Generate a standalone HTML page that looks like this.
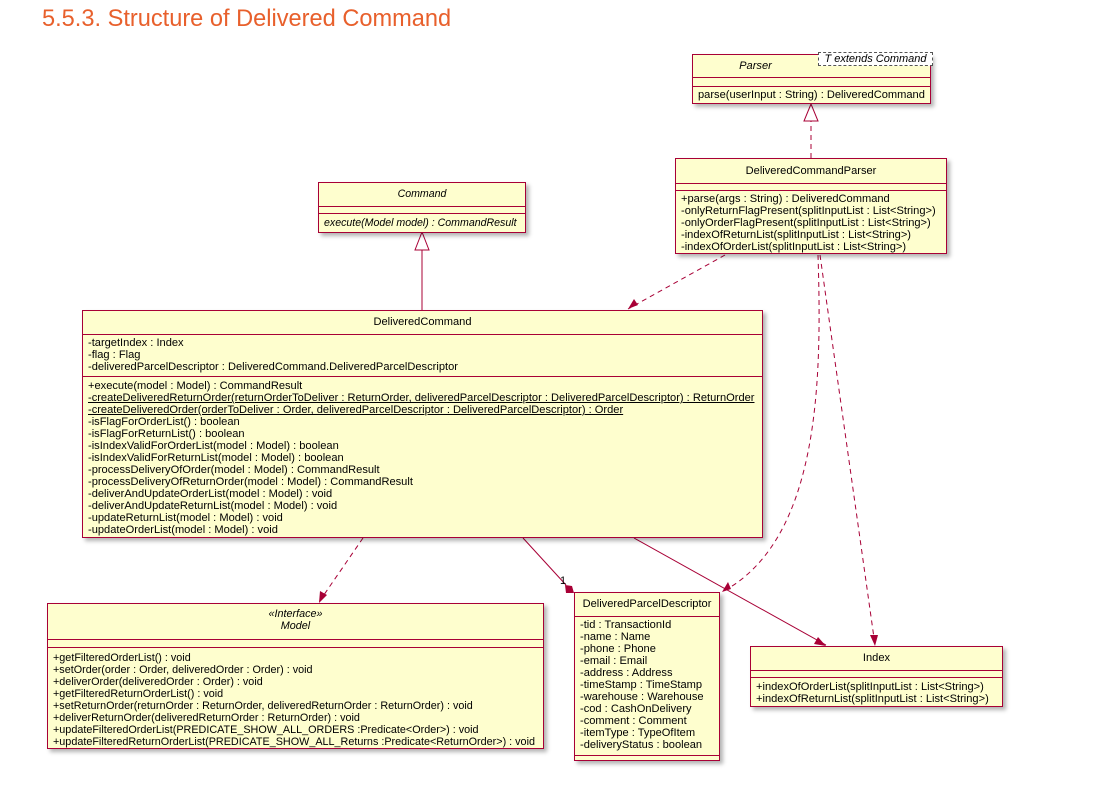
<!DOCTYPE html>
<html><head><meta charset="utf-8"><style>
body{margin:0;width:1110px;height:793px;background:#fff;position:relative;overflow:hidden;font-family:"Liberation Sans",sans-serif}
h1{position:absolute;left:42px;top:6px;margin:0;font-weight:normal;font-size:23.6px;color:#e8602c}
.b{position:absolute;background:#fefece;border:1px solid #a80036;box-shadow:3px 3px 4px rgba(0,0,0,.3);font-size:11.1px;color:#000;white-space:nowrap;box-sizing:border-box}
.t{text-align:center;border-bottom:1px solid #a80036}
.s{border-bottom:1px solid #a80036}
.l{padding-left:5px;line-height:12px}
i{font-style:italic}
u{text-decoration:underline}
svg{position:absolute;left:0;top:0}
</style></head><body>
<h1>5.5.3. Structure of Delivered Command</h1>
<svg width="1110" height="793">
<g stroke="#a80036" fill="none" stroke-width="1">
<line x1="811" y1="158" x2="811" y2="121" stroke-dasharray="5,4"/>
<polygon points="811,104 804,121 818,121" fill="#fff"/>
<line x1="422" y1="310" x2="422" y2="250"/>
<polygon points="422,232 415,250 429,250" fill="#fff"/>
<line x1="725" y1="255" x2="628" y2="309" stroke-dasharray="5,4"/>
<path d="M818,255 C822,380 820,540 722,592" stroke-dasharray="5,4"/>
<line x1="820" y1="255" x2="875" y2="645" stroke-dasharray="5,4"/>
<line x1="363" y1="538" x2="319" y2="602" stroke-dasharray="5,4"/>
<line x1="523" y1="538" x2="566" y2="585"/>
<line x1="634" y1="538" x2="826" y2="645"/>
</g>
<g fill="#a80036">
<polygon points="628,309 634,299 638,305"/>
<polygon points="722,592 728,582 731,589"/>
<polygon points="875,646 870,635 878,635"/>
<polygon points="319,603 320,591 327,595"/>
<polygon points="826,646 814,644 818,637"/>
<polygon points="574,593 566,593 565,585 572,586"/>
</g>
<text x="560" y="584" font-family="Liberation Sans" font-size="11">1</text>
</svg>

<div class="b" style="left:692px;top:54px;width:239px;height:50px">
<div class="t" style="height:22px;line-height:22px;padding-right:112px"><i>Parser</i></div>
<div class="s" style="height:8px"></div>
<div class="l" style="line-height:17px">parse(userInput : String) : DeliveredCommand</div>
</div>
<div style="position:absolute;left:818px;top:52px;width:115px;height:14px;border:1px dashed #555;background:#fff;font-size:11px;line-height:13px;text-align:center;box-sizing:border-box"><i>T extends Command</i></div>

<div class="b" style="left:675px;top:158px;width:272px;height:96px">
<div class="t" style="height:24px;line-height:24px">DeliveredCommandParser</div>
<div class="s" style="height:6px"></div>
<div class="l" style="padding-top:2px">+parse(args : String) : DeliveredCommand<br>-onlyReturnFlagPresent(splitInputList : List&lt;String&gt;)<br>-onlyOrderFlagPresent(splitInputList : List&lt;String&gt;)<br>-indexOfReturnList(splitInputList : List&lt;String&gt;)<br>-indexOfOrderList(splitInputList : List&lt;String&gt;)</div>
</div>

<div class="b" style="left:318px;top:182px;width:208px;height:51px;font-size:10.6px">
<div class="t" style="height:23px;line-height:23px"><i>Command</i></div>
<div class="s" style="height:6px"></div>
<div class="l" style="line-height:18px"><i>execute(Model model) : CommandResult</i></div>
</div>

<div class="b" style="left:82px;top:310px;width:681px;height:228px">
<div class="t" style="height:23px;line-height:23px">DeliveredCommand</div>
<div class="l" style="padding-top:2px;padding-bottom:3px;border-bottom:1px solid #a80036">-targetIndex : Index<br>-flag : Flag<br>-deliveredParcelDescriptor : DeliveredCommand.DeliveredParcelDescriptor</div>
<div class="l" style="padding-top:3px">+execute(model : Model) : CommandResult<br><u>-createDeliveredReturnOrder(returnOrderToDeliver : ReturnOrder, deliveredParcelDescriptor : DeliveredParcelDescriptor) : ReturnOrder</u><br><u>-createDeliveredOrder(orderToDeliver : Order, deliveredParcelDescriptor : DeliveredParcelDescriptor) : Order</u><br>-isFlagForOrderList() : boolean<br>-isFlagForReturnList() : boolean<br>-isIndexValidForOrderList(model : Model) : boolean<br>-isIndexValidForReturnList(model : Model) : boolean<br>-processDeliveryOfOrder(model : Model) : CommandResult<br>-processDeliveryOfReturnOrder(model : Model) : CommandResult<br>-deliverAndUpdateOrderList(model : Model) : void<br>-deliverAndUpdateReturnList(model : Model) : void<br>-updateReturnList(model : Model) : void<br>-updateOrderList(model : Model) : void</div>
</div>

<div class="b" style="left:47px;top:603px;width:497px;height:146px;font-size:10.8px">
<div class="t" style="height:36px;line-height:12px;padding-top:4px;box-sizing:border-box"><i>«Interface»<br>Model</i></div>
<div class="s" style="height:7px"></div>
<div class="l" style="padding-top:4px">+getFilteredOrderList() : void<br>+setOrder(order : Order, deliveredOrder : Order) : void<br>+deliverOrder(deliveredOrder : Order) : void<br>+getFilteredReturnOrderList() : void<br>+setReturnOrder(returnOrder : ReturnOrder, deliveredReturnOrder : ReturnOrder) : void<br>+deliverReturnOrder(deliveredReturnOrder : ReturnOrder) : void<br>+updateFilteredOrderList(PREDICATE_SHOW_ALL_ORDERS :Predicate&lt;Order&gt;) : void<br>+updateFilteredReturnOrderList(PREDICATE_SHOW_ALL_Returns :Predicate&lt;ReturnOrder&gt;) : void</div>
</div>

<div class="b" style="left:574px;top:592px;width:146px;height:169px">
<div class="t" style="height:23px;line-height:23px">DeliveredParcelDescriptor</div>
<div class="l" style="padding-top:2px;padding-bottom:4px;border-bottom:1px solid #a80036">-tid : TransactionId<br>-name : Name<br>-phone : Phone<br>-email : Email<br>-address : Address<br>-timeStamp : TimeStamp<br>-warehouse : Warehouse<br>-cod : CashOnDelivery<br>-comment : Comment<br>-itemType : TypeOfItem<br>-deliveryStatus : boolean</div>
</div>

<div class="b" style="left:750px;top:646px;width:253px;height:61px">
<div class="t" style="height:23px;line-height:23px">Index</div>
<div class="s" style="height:6px"></div>
<div class="l" style="padding-top:3px">+indexOfOrderList(splitInputList : List&lt;String&gt;)<br>+indexOfReturnList(splitInputList : List&lt;String&gt;)</div>
</div>
</body></html>
